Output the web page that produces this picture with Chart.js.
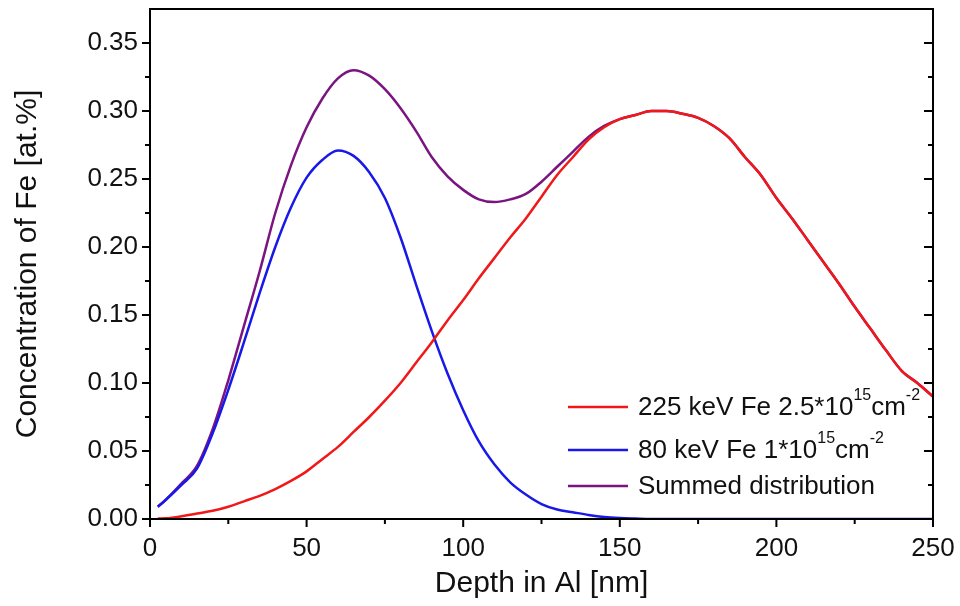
<!DOCTYPE html>
<html>
<head>
<meta charset="utf-8">
<script src="https://cdn.jsdelivr.net/npm/chart.js@4/dist/chart.umd.min.js"></script>
<style>
  body { margin:0; background:#fff }
  #wrap { width:960px; height:606px; position:relative }
</style>
</head>
<body>
<div id="wrap"><canvas id="depthChart" width="960" height="606"></canvas></div>
<script>
// depth grid [nm] and concentrations [at.%]
const depth = [2.5,5,10,15,20,25,30,35,40,45,50,55,60,65,70,75,80,85,90,95,100,105,110,115,120,125,130,135,140,145,150,155,160,165,170,175,180,185,190,195,200,205,210,215,220,225,230,235,240,245,250]
const fe225 = [0.0003,0.0005,0.002,0.004,0.006,0.009,0.013,0.017,0.022,0.028,0.035,0.044,0.053,0.064,0.075,0.087,0.100,0.115,0.130,0.146,0.161,0.177,0.192,0.207,0.221,0.237,0.253,0.266,0.279,0.288,0.294,0.297,0.300,0.300,0.298,0.295,0.289,0.280,0.266,0.253,0.236,0.221,0.205,0.189,0.173,0.156,0.140,0.124,0.109,0.100,0.090]
const fe80 = [0.009,0.014,0.025,0.037,0.063,0.095,0.130,0.166,0.200,0.229,0.251,0.264,0.271,0.267,0.255,0.236,0.207,0.172,0.138,0.107,0.080,0.057,0.040,0.027,0.018,0.011,0.007,0.005,0.003,0.0015,0.0007,0.0003,0,0,0,0,0,0,0,0,0,0,0,0,0,0,0,0,0,0,0]
const summed = [0.009,0.014,0.026,0.039,0.066,0.102,0.142,0.182,0.225,0.260,0.288,0.309,0.324,0.330,0.326,0.316,0.302,0.285,0.266,0.252,0.242,0.235,0.233,0.235,0.239,0.248,0.259,0.270,0.281,0.289,0.294,0.297,0.300,0.300,0.298,0.295,0.289,0.280,0.266,0.253,0.236,0.221,0.205,0.189,0.173,0.156,0.140,0.124,0.109,0.100,0.090]

const xTicks = [0,50,100,150,200,250]
const yTicks = [0,0.05,0.10,0.15,0.20,0.25,0.30,0.35]

const seriesNames = ['225 keV Fe 2.5*10|15|cm|-2', '80 keV Fe 1*10|15|cm|-2', 'Summed distribution']
const seriesColors = ['#f01818', '#1818e8', '#7a1480']

const FONT = '"Liberation Sans", Arial, sans-serif'

function pts(ys){ return depth.map((x,i)=>({x, y: ys[i]})) }

// frame, ticks (major + minor) and the in-plot legend
const framePlugin = {
  id:'frame',
  afterDraw(chart){
    const {ctx, chartArea:a, scales:{x, y}} = chart
    ctx.save()
    ctx.strokeStyle = '#000'
    ctx.lineWidth = 2
    ctx.strokeRect(a.left, a.top, a.right-a.left, a.bottom-a.top)
    ctx.beginPath()
    xTicks.forEach((v,i)=>{
      const px = x.getPixelForValue(v)
      ctx.moveTo(px, a.bottom); ctx.lineTo(px, a.bottom+8)
      if(i<xTicks.length-1){
        const mx = x.getPixelForValue((v+xTicks[i+1])/2)
        ctx.moveTo(mx, a.bottom); ctx.lineTo(mx, a.bottom+5)
      }
    })
    yTicks.forEach((v,i)=>{
      const py = y.getPixelForValue(v)
      ctx.moveTo(a.left-8, py); ctx.lineTo(a.left, py)
      ctx.moveTo(a.right-9, py); ctx.lineTo(a.right, py)
      const mv = v+0.025
      if(mv < y.max){
        const my = y.getPixelForValue(mv)
        ctx.moveTo(a.left-5, my); ctx.lineTo(a.left, my)
        ctx.moveTo(a.right-5, my); ctx.lineTo(a.right, my)
      }
    })
    ctx.stroke()

    // legend
    const rowsY = [407, 450, 486]
    const lx = 568, tx = 638
    ctx.textBaseline = 'middle'
    seriesNames.forEach((name,i)=>{
      const yy = rowsY[i]
      ctx.strokeStyle = seriesColors[i]
      ctx.lineWidth = 2.5
      ctx.beginPath(); ctx.moveTo(lx, yy); ctx.lineTo(lx+60, yy); ctx.stroke()
      ctx.fillStyle = '#111'
      const parts = name.split('|')
      let cx = tx
      parts.forEach((p,k)=>{
        const sup = k%2===1
        ctx.font = (sup ? '16px ' : '26px ') + FONT
        ctx.fillText(p, cx, sup ? yy-11 : yy+1)
        cx += ctx.measureText(p).width
      })
    })
    ctx.restore()
  }
}

function noOverflow(s){ s.paddingTop = 0; s.paddingBottom = 0; s.paddingLeft = 0; s.paddingRight = 0 }

function initChart(){
  try {
    const el = document.getElementById('depthChart')
    if(!el){ console.error('canvas not found'); return }
    new Chart(el, {
      type:'line',
      data:{datasets:[
        {label:'225 keV', data:pts(fe225), borderColor:seriesColors[0]},
        {label:'80 keV', data:pts(fe80), borderColor:seriesColors[1]},
        {label:'Summed', data:pts(summed), borderColor:seriesColors[2]}
      ]},
      options:{
        responsive:false, animation:false,
        layout:{padding:{top:9, right:27, left:0, bottom:0}},
        elements:{point:{radius:0}, line:{borderWidth:2.5, cubicInterpolationMode:'monotone', fill:false}},
        plugins:{legend:{display:false}, tooltip:{enabled:false}},
        scales:{
          x:{
            type:'linear', min:0, max:250,
            grid:{display:false}, border:{display:false},
            afterBuildTicks: s => { s.ticks = xTicks.map(v=>({value:v})) },
            afterFit: s => { s.height = 87; noOverflow(s) },
            ticks:{color:'#111', padding:6, font:{family:FONT, size:26}},
            title:{display:true, text:'Depth in Al [nm]', color:'#111', padding:{top:0}, font:{family:FONT, size:30}}
          },
          y:{
            min:0, max:0.375,
            grid:{display:false}, border:{display:false},
            afterBuildTicks: s => { s.ticks = yTicks.map(v=>({value:v})) },
            afterFit: s => { s.width = 150; noOverflow(s) },
            ticks:{color:'#111', padding:4, font:{family:FONT, size:26}, callback: v => v.toFixed(2)},
            title:{display:true, text:'Concentration of Fe [at.%]', color:'#111', padding:{top:10, bottom:0}, font:{family:FONT, size:30}}
          }
        }
      },
      plugins:[framePlugin]
    })
  } catch(e){
    console.error('Chart init error:', e)
  }
}

document.addEventListener('DOMContentLoaded', initChart)
</script>
</body>
</html>
